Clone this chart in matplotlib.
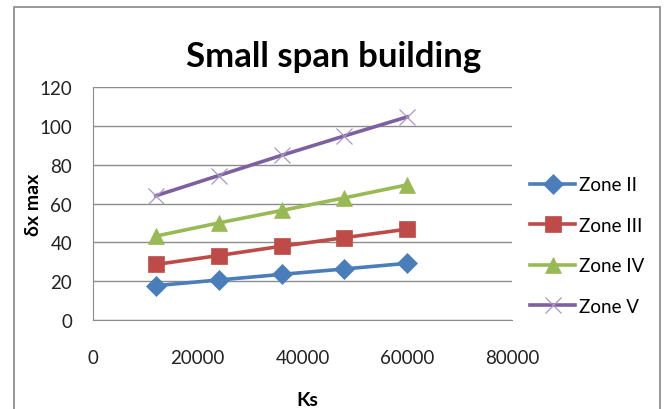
import numpy as np
import matplotlib.pyplot as plt
from matplotlib.patches import Rectangle

ks = [12000, 24000, 36000, 48000, 60000]
zone_ii = [17.7, 20.6, 23.5, 26.3, 29.2]
zone_iii = [28.6, 33.2, 38.0, 42.4, 46.8]
zone_iv = [43.2, 50.0, 56.4, 62.9, 69.6]
zone_v = [64.0, 74.4, 84.8, 94.8, 104.6]

x_ticks = [0, 20000, 40000, 60000, 80000]
y_ticks = [0, 20, 40, 60, 80, 100, 120]

plt.rcParams['font.family'] = ['Lato', 'DejaVu Sans']

fig = plt.figure(figsize=(6.64, 4.10), dpi=100)
fig.patches.append(Rectangle((14 / 664, -0.1), 646 / 664, 1.1 - 8 / 410,
                             transform=fig.transFigure, fill=False,
                             edgecolor='#868686', linewidth=1.2))

ax = fig.add_axes([93 / 664, 89 / 410, 419 / 664, 233 / 410])

series = [
    ('Zone II', zone_ii, '#4A7EBB', 'D', 10, None),
    ('Zone III', zone_iii, '#BE4B48', 's', 11, None),
    ('Zone IV', zone_iv, '#98B954', '^', 11, None),
    ('Zone V', zone_v, '#7D60A0', 'x', 12, '#A897C6'),
]
for name, vals, col, mk, ms, mec in series:
    ax.plot(ks, vals, color=col, linewidth=2.6, marker=mk, markersize=ms,
            markeredgecolor=(col if mec is None else mec),
            markeredgewidth=(0.5 if mec is None else 0.9),
            label=name, clip_on=False)

ax.set_xlim(0, 80000)
ax.set_ylim(0, 120)
ax.set_xticks(x_ticks)
ax.set_yticks(y_ticks)
ax.tick_params(axis='both', length=0, labelsize=13.5, colors='#222222')
ax.tick_params(axis='y', pad=15)
ax.tick_params(axis='x', pad=21)
ax.grid(axis='y', color='#8C8C8C', linewidth=1)
ax.set_axisbelow(True)
for s in ['top', 'right']:
    ax.spines[s].set_visible(False)
for s in ['left', 'bottom']:
    ax.spines[s].set_color('#8C8C8C')

ax.set_xlabel('Ks', fontsize=14, fontweight='bold')
ax.xaxis.set_label_coords(0.511, -0.305)
ax.set_ylabel('δx max', fontsize=14, fontweight='bold')
ax.yaxis.set_label_coords(-0.122, 0.5)
fig.text(334 / 664, 1 - 57 / 410, 'Small span building', fontsize=25,
         fontweight='bold', ha='center', va='center')

ax.legend(loc='center left', bbox_to_anchor=(1.043, 0.32), frameon=False,
          fontsize=13.5, handlelength=2.4, handletextpad=0.2,
          labelspacing=1.25, borderpad=0, borderaxespad=0)

fig.savefig('out.png', dpi=100)
